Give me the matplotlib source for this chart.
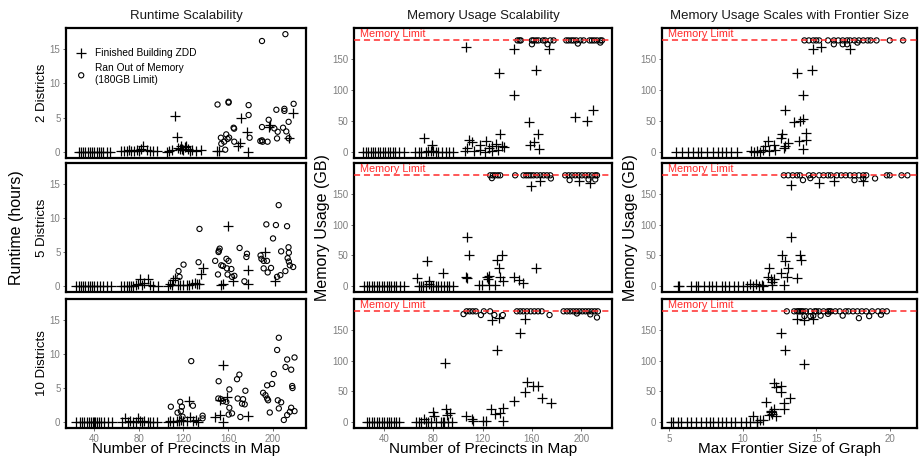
import matplotlib
matplotlib.use("Agg")
import matplotlib.pyplot as plt

plt.rcParams['font.family'] = ['Liberation Sans', 'DejaVu Sans']

# ---------------- data ----------------
col_titles = ["Runtime Scalability", "Memory Usage Scalability", "Memory Usage Scales with Frontier Size"]
row_labels = ["2 Districts", "5 Districts", "10 Districts"]
x_labels = ["Number of Precincts in Map", "Number of Precincts in Map", "Max Frontier Size of Graph"]
legend_labels = ["Finished Building ZDD", "Ran Out of Memory\n(180GB Limit)"]
limit_text = "Memory Limit"
memory_limit = 180
precinct_ticks = [40, 80, 120, 160, 200]
frontier_ticks = [5, 10, 15, 20]
runtime_ticks = [0, 5, 10, 15]
memory_ticks = [0, 50, 100, 150]

# Runtime, 2 districts
rt2_done_x = [26, 28, 30, 32, 34, 36, 38, 40, 42, 44, 46, 48, 51, 54,
              64, 67, 69, 71, 73, 76, 78, 80, 82, 84, 87, 90, 93, 96,
              105, 107, 110, 112, 114, 115, 117, 118, 119, 120, 121, 122, 124, 126, 128, 131, 136,
              150, 151.5, 168.6, 170.4, 171.6, 177.3, 177.6, 196.5, 198, 214.8, 218.3]
rt2_done_y = [0.05] * 14 + \
             [0.1, 0.2, 0.1, 0.3, 0.2, 0.1, 0.3, 0.2, 0.5, 0.8, 0.3, 0.1, 0.2, 0.1] + \
             [0.0, 0.1, 0.3, 5.24, 2.2, 0.6, 0.4, 0.8, 0.5, 0.3, 0.7, 0.9, 0.4, 0.2, 0.3, 0.1, 0.3] + \
             [0.2, 0.15, 0.83, 1.35, 4.9, 2.9, 0.0, 3.6, 4.0, 2.1, 5.7]
rt2_oom_x = [150.6, 160.5, 160.5, 178.5, 218.9, 178.5, 203.4, 210.6, 210.6, 214.4, 196.5, 165, 165.5,
             190.5, 201.6, 204.6, 209.4, 212.3, 204, 214.4, 158.4, 153.6, 159.6, 156.6, 165.6, 179.4,
             189, 190.5, 191, 195.5, 157.5, 190.5, 211.5, 154, 161]
rt2_oom_y = [6.93, 7.33, 7.2, 6.84, 7.03, 5.39, 6.16, 6.3, 6.0, 4.4, 4.7, 3.54, 3.4,
             3.64, 3.44, 2.95, 3.54, 3.0, 1.98, 2.0, 2.57, 2.08, 1.9, 1.5, 1.5, 2.08,
             1.6, 1.7, 1.5, 1.5, 0.33, 16.2, 17.2, 1.2, 2.1]

# Runtime, 5 districts
rt5_done_x = [24, 26, 28, 30, 32, 34, 36, 38, 40, 42, 45, 48, 51, 55,
              64, 67, 69, 71, 73, 75, 77, 79, 80.9, 83, 85, 88.4, 90, 93, 97,
              106, 108, 109.6, 110.5, 112.6, 115, 117, 120, 123, 125, 128, 130, 132, 134, 135.7, 137.5,
              154, 155.1, 159.6, 164.5, 177.6, 177.6, 192.9, 202.6]
rt5_done_y = [0.0] * 14 + \
             [0, 0, 0, 0, 0, 0, 0.1, 0.3, 1.07, 0.2, 0.4, 1.07, 0.1, 0, 0] + \
             [0, 0.3, 0.2, 0.9, 1.2, 0.2, 0.2, 0.2, 0.2, 0.1, 0.3, 0.5, 0.3, 0.3, 1.7, 2.66] + \
             [0.1, 0.24, 8.78, 0.8, 2.3, 0.24, 5.0, 0.8]
rt5_oom_x = [205.5, 134.4, 194.4, 203, 213, 200.4, 152.5, 151.8, 151.5, 170.4, 177, 176.5, 189.2, 190,
             207.7, 214.3, 214.6, 213.5, 214.6, 215.5, 218.5, 211.5, 207, 204, 192, 195.6, 198.6, 192,
             195, 120.1, 115.6, 116.5, 133.6, 148.5, 154, 155.5, 151, 158.6, 160.5, 159, 163, 159.6,
             163.6, 165.7, 174.7]
rt5_oom_y = [11.9, 8.4, 9.07, 8.97, 8.8, 7.0, 5.5, 5.2, 5.0, 5.6, 4.75, 4.27, 4.5, 4.0,
             5.1, 5.7, 4.9, 4.1, 3.6, 3.05, 2.8, 2.2, 1.6, 1.35, 2.6, 2.0, 2.66, 3.7,
             3.7, 3.15, 2.2, 1.35, 3.5, 3.7, 3.05, 2.95, 1.7, 4.0, 3.7, 2.6, 2.5, 1.7,
             1.35, 1.5, 0.7]

# Runtime, 10 districts
rt10_done_x = [24, 27, 29, 31, 33, 35, 37, 39, 40, 41, 42, 44, 46, 49, 52, 56,
               65, 67.5, 70, 72, 75, 77, 79.5, 81, 83, 85, 88, 90, 93, 96,
               106, 108, 111, 114, 116, 118, 120, 123.1, 124.6, 126.1, 129, 131, 133,
               148.6, 152.5, 153.1, 155.5, 155.5, 159.1, 177.7]
rt10_done_y = [0.0] * 16 + \
              [0, 0.59, 0, 0.1, 0, 0, 0.59, 0.2, 0, 0.1, 0, 0, 0, 0] + \
              [0, 0.1, 0, 0.2, 0.1, 0.3, 0.1, 0.15, 3.07, 0.79, 0.2, 0.3, 0.0] + \
              [0.78, 3.2, 1.1, 8.4, 0.0, 3.66, 0.93]
rt10_oom_x = [205.6, 204.1, 213.1, 219.7, 211.6, 216.7, 127, 201.1, 170.2, 168.1, 151.6, 195.1, 199.6,
              217.6, 217.9, 161.2, 175.6, 191.5, 193.6, 195.1, 196, 151.3, 153.7, 155.5, 168.7, 173.5,
              175, 172.6, 204.7, 207.7, 205.6, 216.7, 219.7, 215.5, 213.1, 210.1, 158.5, 161.2, 163.6,
              160.6, 171.1, 197.5, 108.7, 117.1, 118.6, 117.7, 114.7, 128.5, 137.2, 137.2, 119.2]
rt10_oom_y = [12.4, 10.6, 9.2, 9.5, 8.1, 7.7, 8.96, 7.06, 6.97, 6.3, 6.0, 5.4, 5.6,
              5.3, 5.0, 4.8, 4.6, 4.3, 3.95, 3.46, 3.2, 3.46, 3.36, 3.07, 3.46, 3.36,
              2.6, 2.7, 3.2, 2.9, 2.0, 2.1, 1.6, 1.5, 1.03, 0.3, 2.97, 2.1, 1.27,
              1.1, 0.74, 1.4, 2.25, 2.97, 2.25, 1.6, 1.37, 2.4, 0.93, 0.54, 0.79]

# Memory vs precincts, 2 districts
mp2_done_x = [23, 25, 27, 29, 31, 33, 35, 37, 39, 41, 43, 45, 47, 49, 52, 56,
              65, 68, 70, 72.8, 74, 76, 78, 79.3, 80, 82, 84, 87, 90, 93, 96,
              105.8, 106.4, 107.2, 109.3, 111.2, 113, 117.5, 118, 122.9, 122, 125, 127.5, 128, 131,
              132.4, 133.4, 134.3, 135.6, 137,
              145.1, 145.1, 157.3, 158.1, 161.9, 163.5, 164.6, 165.4, 174.1,
              195.2, 204.7, 209.5]
mp2_done_y = [0.5] * 16 + \
             [0.5, 0.5, 0.5, 22.6, 0.5, 1, 2, 10.7, 1, 0.5, 0.5, 0.5, 0.5, 0.5, 0.5] + \
             [1, 170, 6.4, 18.8, 15.6, 2, 11.8, 3.7, 18.3, 0.5, 6.4, 10.2, 1, 13.4,
              3.7, 126.8, 29.6, 9.1, 8] + \
             [165.7, 91.7, 48.5, 10.7, 15.6, 131.7, 29.6, 4.8, 166.8] + \
             [56.6, 50.7, 67.4]
mp2_oom_x = [148.3, 150, 151, 160, 161.3, 163.5, 165.4, 169, 170.8, 174.9, 177.6,
             187.9, 189.8, 192, 193.8, 196, 199.3, 202, 206.8, 208.7, 210.6, 212.8, 215.5, 216.9,
             160, 172.7, 197.3, 215.5]
mp2_oom_y = [180] * 24 + [173.8, 173.8, 174.9, 176.5]

# Memory vs precincts, 5 districts
mp5_done_x = [24, 26, 28, 30, 32, 34, 36, 38, 40, 42, 44, 46, 48, 50, 53, 56,
              66.6, 68, 70, 72, 74, 75.2, 76.8, 76.8, 78, 80, 82, 84, 86, 87.7, 89, 91, 93, 96,
              106.6, 107, 107.7, 109.3, 116.7, 119.3, 123.4, 124.8, 124, 125, 131.6, 132.9, 135.6,
              133.7, 136.4, 130,
              145.1, 149.2, 152.7, 159.2, 163.2, 166.8, 197.9, 206.8]
mp5_done_y = [0.5] * 16 + \
             [13.4, 0.5, 0.5, 0.5, 0.5, 40.4, 9.1, 3.7, 0.5, 0.5, 0.5, 0.5, 0.5, 21.5, 0.5, 0.5, 0.5, 0.5] + \
             [15.6, 13.4, 79.3, 51.2, 2.6, 2.6, 14.5, 17.2, 11.8, 2.6, 42.6, 29.6, 51.2,
              15.6, 8, 2.6] + \
             [14.5, 10.2, 4.8, 163, 29.6, 170, 170, 167.9]
mp5_oom_x = [126.1, 128.3, 130.2, 132.4, 134.3, 146.4,
             153.2, 155.4, 157.3, 159.2, 161.3, 164, 166.8, 169.5, 172.2, 174.9,
             187, 189.8, 192.5, 195.2, 197.9, 200.6, 203.3, 206, 208.7, 211.4, 212.8,
             127.5, 175.4, 190.6, 206, 211.4]
mp5_oom_y = [180] * 27 + [175.4, 174.9, 172.2, 173.3, 173.3]

# Memory vs precincts, 10 districts
mp10_done_x = [26, 28, 30, 32, 34, 36, 38, 40, 42, 44, 46, 48, 50, 52,
               66, 68, 70, 72.5, 74, 76, 78, 79.6, 80.6, 82, 86, 88, 89, 89.6, 90.4, 90.9, 92, 93.6, 95,
               106.6, 111.2, 112, 120, 123, 126.7, 127.5, 130.2, 131.6, 132.9, 134.3, 136.4, 136.4,
               145.6, 150, 154.6, 154.6, 155.9, 160.8, 164.6, 168.1, 175.4]
mp10_done_y = [0.5] * 14 + \
              [0.5, 0.5, 0.5, 5.4, 0.5, 0.5, 0.5, 16.2, 10.8, 0.5, 0.5, 0.5, 0.5, 95.6, 21.6, 11.9,
               0.5, 14.6, 0.5] + \
              [10.8, 5.4, 1.1, 1.1, 1.1, 21.6, 165.8, 13, 117.2, 169.6, 14.6, 22.7, 1.1] + \
              [34.6, 145.3, 167.4, 48.6, 65.9, 59.4, 59.4, 40, 30.8]
mp10_oom_x = [104.5, 107, 109.5, 112, 114.5, 118.6, 121, 126, 129.5, 136.4,
              147.8, 150.5, 153, 156, 159, 162, 165, 168,
              185.7, 188.5, 191, 193.5, 196, 198.5, 201, 203.5, 206, 208.5, 211, 213.5,
              196.5, 207.4, 212.8, 174.3]
mp10_oom_y = [175.5, 180, 180, 180, 180, 174, 180, 180, 174, 174] + [180] * 8 + [180] * 12 + \
             [176.5, 175, 170, 174]

# Memory vs frontier size, 2 districts
fr2_done_x = [5.5, 5.9, 6.3, 6.6, 7.0, 7.2, 7.6, 8.0, 8.3, 8.6, 8.9, 9.2, 9.6,
              10.6, 10.8, 11.0, 11.2, 11.4, 11.5, 11.7, 11.8, 12.1, 12.2, 12.6, 12.7, 12.9, 12.9,
              13.1, 12.8, 13.5, 13.9, 14.1, 13.7, 14.1, 14.3, 14.3, 13.8, 14.1, 14.7, 14.8, 15.3, 17.3]
fr2_done_y = [0.5] * 13 + \
             [1, 0.5, 2, 0.5, 3, 9.1, 17.2, 1, 11.8, 4, 22.6, 29.6, 67.4, 9.1,
              14.5, 6.4, 48.5, 49.6, 53.9, 126.8, 91.7, 30.7, 18.8, 18.3, 4.8, 131.7, 166.8, 169.5, 165.7]
fr2_oom_x = [14.2, 14.5, 14.8, 15.0, 15.2,
             15.8, 16.2, 16.5, 16.8, 17.1, 17.3, 17.6, 17.9, 18.2, 18.5, 18.7, 19.1, 20.0, 20.9,
             16.2, 16.8, 17.1, 17.8]
fr2_oom_y = [180] * 19 + [173.8, 173.8, 173.8, 176.5]

# Memory vs frontier size, 5 districts
fr5_done_x = [5.6, 5.7, 6.5, 6.8, 7.0, 7.4, 7.7, 7.9, 8.2, 8.6, 8.8, 9.1, 9.4, 9.7, 10.0, 10.3,
              10.5, 10.7, 10.9, 11.1, 11.3, 11.4, 11.8, 11.7, 11.9, 12.1, 12.0, 12.0,
              12.7, 12.9, 13.1, 12.8, 12.6, 13.0, 13.3, 13.3, 13.9, 14.0, 13.7, 15.2, 16.2, 18.2]
fr5_done_y = [0.5] * 16 + \
             [3, 1, 4, 1, 2, 0.5, 29.6, 14.5, 11.8, 11.8, 6.4, 2,
              51.2, 40.4, 29.6, 2.6, 21, 14.5, 79.3, 163.5, 51.2, 43.1, 13.4, 167.9, 171.1, 170]
fr5_oom_x = [12.8, 13.1, 13.4, 13.7, 13.9, 14.5, 14.8, 15.2, 15.5, 15.8, 16.0, 16.4,
             16.7, 17.0, 17.3, 17.6, 17.9, 18.2, 18.4, 19.8, 20.0, 20.8, 21.2,
             14.1, 14.6, 17.6, 18.2, 19.0]
fr5_oom_y = [180] * 23 + [172.2, 175.4, 172.2, 174.9, 174.9]

# Memory vs frontier size, 10 districts
fr10_done_x = [5.1, 5.3, 5.6, 5.8, 6.2, 6.5, 6.8, 7.2, 7.5, 7.8, 8.0, 8.3, 8.6, 8.9, 9.2, 9.5,
               9.9, 10.2, 10.5, 11.0,
               10.7, 11.0, 11.2, 11.4, 11.6, 11.8, 11.9, 12.0, 12.1, 12.3, 12.1, 11.9, 12.6, 12.6,
               12.8, 12.8, 13.2, 12.6, 12.9, 14.2, 13.7, 14.2, 14.8, 12.3]
fr10_done_y = [0.5] * 20 + \
              [9.7, 1, 4.3, 2.7, 32.4, 11.9, 16.2, 13.5, 63.9, 56.8, 21.6, 18.9, 59.5, 48.7,
               31.4, 21.6, 39, 144.5, 116.4, 94.7, 166.8, 165.1, 167.8, 10]
fr10_oom_x = [13.0, 13.5, 13.7, 13.8, 13.9, 14.0, 14.1, 14.3, 14.6, 14.9, 15.0, 15.2, 15.5, 15.8,
              15.9, 16.0, 16.3, 16.6, 17.0, 17.2, 17.5, 17.8, 18.1, 18.4, 18.8, 19.2, 19.5, 19.8,
              14.2, 14.6, 14.8, 15.3, 15.8, 16.8, 17.9, 18.6, 19.4]
fr10_oom_y = [180] * 28 + [172.2, 172.2, 173, 173, 175.9, 173, 168.9, 172.2, 174.4]

panels = [
    [(rt2_done_x, rt2_done_y, rt2_oom_x, rt2_oom_y),
     (mp2_done_x, mp2_done_y, mp2_oom_x, mp2_oom_y),
     (fr2_done_x, fr2_done_y, fr2_oom_x, fr2_oom_y)],
    [(rt5_done_x, rt5_done_y, rt5_oom_x, rt5_oom_y),
     (mp5_done_x, mp5_done_y, mp5_oom_x, mp5_oom_y),
     (fr5_done_x, fr5_done_y, fr5_oom_x, fr5_oom_y)],
    [(rt10_done_x, rt10_done_y, rt10_oom_x, rt10_oom_y),
     (mp10_done_x, mp10_done_y, mp10_oom_x, mp10_oom_y),
     (fr10_done_x, fr10_done_y, fr10_oom_x, fr10_oom_y)],
]

# ---------------- layout ----------------
W, H = 919, 458
fig = plt.figure(figsize=(W / 100, H / 100), dpi=100)

col_px = [(66, 306), (354, 612), (662, 917)]
row_px = [(28, 158), (163, 292), (299, 428)]
xlims = [(14.6, 230), (15.6, 225), (4.52, 21.85)]
ylims = [(-0.88, 18.1), (-9.5, 200), (-9.5, 200)]
xticks = [precinct_ticks, precinct_ticks, frontier_ticks]
yticks = [runtime_ticks, memory_ticks, memory_ticks]

tick_col = '#7f7f7f'
red = '#ff2a2a'

def fx(px):
    return px / W

def fy(py):
    return 1 - py / H

axes = {}
for r in range(3):
    for c in range(3):
        l, rr = col_px[c]
        t, b = row_px[r]
        ax = fig.add_axes([fx(l), fy(b), (rr - l) / W, (b - t) / H])
        axes[(r, c)] = ax
        dx, dy, ox, oy = panels[r][c]
        ax.scatter(dx, dy, marker='+', s=42, c='black', linewidths=0.9, zorder=3)
        ax.scatter(ox, oy, marker='o', s=14, facecolors='none', edgecolors='black',
                   linewidths=0.8, zorder=3)
        if c > 0:
            ax.axhline(memory_limit, color=red, linestyle=(0, (4, 2.5)), linewidth=1.1, zorder=4)
            ax.text(xlims[c][0] + (xlims[c][1] - xlims[c][0]) * 0.025, memory_limit + 2, limit_text,
                    color=red, fontsize=7.8, ha='left', va='bottom', zorder=5)
        ax.set_xlim(*xlims[c])
        ax.set_ylim(*ylims[c])
        ax.set_xticks(xticks[c])
        ax.set_yticks(yticks[c])
        for s in ax.spines.values():
            s.set_linewidth(1.6)
            s.set_color('black')
        ax.tick_params(axis='both', colors='#555555', labelcolor=tick_col, labelsize=7,
                       length=2.5, width=0.6, pad=1.5)
        if r < 2:
            ax.tick_params(axis='x', bottom=False, labelbottom=False)

# legend in top-left runtime panel
ax0 = axes[(0, 0)]
h1 = ax0.scatter([], [], marker='+', s=42, c='black', linewidths=0.9)
h2 = ax0.scatter([], [], marker='o', s=14, facecolors='none', edgecolors='black', linewidths=0.8)
ax0.legend([h1, h2], legend_labels, loc='upper left', bbox_to_anchor=(0.0, 0.9),
           frameon=False, fontsize=7.3, handletextpad=0.6, labelspacing=0.5,
           borderaxespad=0.3, handlelength=1.6)

# titles and x labels
for c in range(3):
    l, rr = col_px[c]
    fig.text(fx((l + rr) / 2), fy(15.5), col_titles[c], ha='center', va='center',
             fontsize=9.5, color='#1a1a1a')
    fig.text(fx((l + rr) / 2), fy(449), x_labels[c],
             ha='center', va='center', fontsize=11, color='black')

# row labels and y-axis labels
for r in range(3):
    t, b = row_px[r]
    fig.text(fx(42), fy((t + b) / 2), row_labels[r], rotation=90, ha='center', va='center',
             fontsize=9.5)
mid = (row_px[1][0] + row_px[1][1]) / 2
fig.text(fx(17), fy(mid), "Runtime (hours)", rotation=90, ha='center', va='center', fontsize=11.5)
fig.text(fx(323), fy(mid), "Memory Usage (GB)", rotation=90, ha='center', va='center', fontsize=11.5)
fig.text(fx(630), fy(mid), "Memory Usage (GB)", rotation=90, ha='center', va='center', fontsize=11.5)

fig.savefig("out.png", dpi=100)
